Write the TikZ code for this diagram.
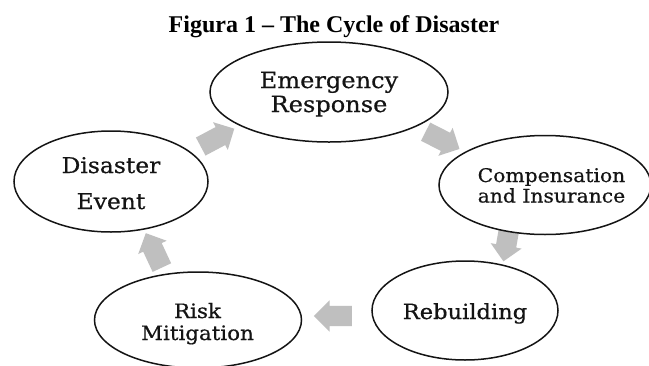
\documentclass[tikz,border=0pt]{standalone}
\usepackage{fontspec}
\setmainfont{DejaVu Serif}
\newfontfamily\slabfont[FakeStretch=1.08,FakeBold=0.6]{DejaVu Serif}
\newfontfamily\titlefont{Liberation Serif}
\usetikzlibrary{shapes.geometric,shapes.arrows}
\definecolor{arrowgray}{RGB}{191,191,191}
\definecolor{inkblack}{RGB}{20,20,20}
\begin{document}
\begin{tikzpicture}[x=1pt,y=-1pt,
  stage/.style={ellipse, draw=inkblack, line width=1.5pt, fill=white, inner sep=0pt},
  flow/.style={single arrow, fill=arrowgray, draw=none, minimum height=38pt,
    minimum width=0pt, single arrow head extend=5.5pt, inner sep=10pt},
  lbl/.style={anchor=base, inner sep=0pt, text=inkblack}]
\useasboundingbox (0,0) rectangle (649,365);
\fill[white] (0,0) rectangle (649,365);
% title
\node[lbl, text=black] (title) at (334,32) {\titlefont\bfseries\fontsize{24}{24}\selectfont Figura 1 – The Cycle of Disaster};
% arrows (drawn first, ellipses cover their ends)
\node[flow, rotate=28] (a1) at (213,140) {};
\node[flow, rotate=-27] (a2) at (438,138) {};
\node[flow, rotate=-100] (a3) at (507.6,237.6) {};
\node[flow, rotate=180] (a4) at (338,316) {};
\node[flow, rotate=115] (a5) at (156,255) {};
% stages
\node[stage, minimum width=238pt, minimum height=100pt] (er) at (329,92) {};
\node[stage, minimum width=212pt, minimum height=99pt] (ci) at (545,185) {};
\node[stage, minimum width=186pt, minimum height=99pt] (rb) at (465,310.5) {};
\node[stage, minimum width=207pt, minimum height=96pt] (rm) at (198,320) {};
\node[stage, minimum width=194pt, minimum height=101pt] (de) at (111,181.5) {};
% labels
\node[lbl] (er1) at (329,88) {\slabfont\fontsize{22.3}{22}\selectfont Emergency};
\node[lbl] (er2) at (329,112) {\slabfont\fontsize{22.3}{22}\selectfont Response};
\node[lbl] (ci1) at (551.5,182) {\slabfont\fontsize{18.8}{19}\selectfont Compensation};
\node[lbl] (ci2) at (551.5,202.5) {\slabfont\fontsize{18.8}{19}\selectfont and Insurance};
\node[lbl] (rb1) at (465,319) {\slabfont\fontsize{20.9}{21}\selectfont Rebuilding};
\node[lbl] (rm1) at (197.5,318) {\slabfont\fontsize{19.8}{20}\selectfont Risk};
\node[lbl] (rm2) at (197.5,340) {\slabfont\fontsize{19.8}{20}\selectfont Mitigation};
\node[lbl] (de1) at (111,173) {\slabfont\fontsize{21.7}{22}\selectfont Disaster};
\node[lbl] (de2) at (111,209) {\slabfont\fontsize{21.7}{22}\selectfont Event};
\end{tikzpicture}
\end{document}
